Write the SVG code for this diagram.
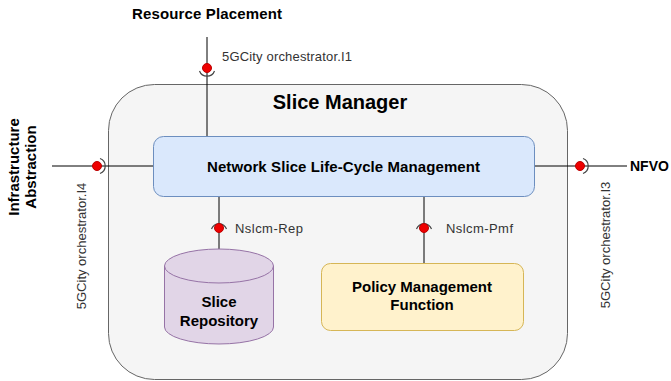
<svg xmlns="http://www.w3.org/2000/svg" width="671" height="381" viewBox="0 0 671 381">
<style>
.b{font-family:"Liberation Sans",Arial,sans-serif;font-weight:bold;font-size:15px;fill:#000;text-anchor:middle}
.l{font-family:"Liberation Sans",Arial,sans-serif;font-size:13px;fill:#333}
.ln{stroke:#000;stroke-width:1;fill:none}
.dot{fill:#e00;stroke:#b00;stroke-width:1}
.sock{fill:none;stroke:#444;stroke-width:1.2}
</style>
<rect width="671" height="381" fill="#fff"/>
<g id="slice-manager">
<rect x="108.5" y="84.5" width="459" height="295" rx="46" fill="#f5f5f5" stroke="#666"/>
<text class="b" x="340" y="109" style="font-size:20px">Slice Manager</text>
</g>
<g id="connectors">
<line class="ln" x1="207" y1="37" x2="207" y2="136"/>
<line class="ln" x1="52" y1="166" x2="153" y2="166"/>
<line class="ln" x1="535" y1="166" x2="627" y2="166"/>
<line class="ln" x1="219" y1="197" x2="219" y2="250"/>
<line class="ln" x1="424" y1="197" x2="424" y2="263"/>
</g>
<g id="interface-i1">
<path class="sock" d="M199.5,71 A8,8 0 0 0 214.5,71"/>
<circle class="dot" cx="207" cy="68" r="4.5"/>
<text class="l" x="222" y="61" textLength="130">5GCity orchestrator.I1</text>
</g>
<g id="interface-i4">
<path class="sock" d="M100,158.5 A8,8 0 0 1 100,173.5"/>
<circle class="dot" cx="97" cy="166" r="4.5"/>
<text class="l" transform="translate(86,246) rotate(-90)" text-anchor="middle">5GCity orchestrator.I4</text>
</g>
<g id="interface-i3">
<path class="sock" d="M583,158.5 A8,8 0 0 1 583,173.5"/>
<circle class="dot" cx="580" cy="166" r="4.5"/>
<text class="l" transform="translate(610,245) rotate(-90)" text-anchor="middle">5GCity orchestrator.I3</text>
</g>
<g id="interface-rep">
<path class="sock" d="M211.5,229 A8,8 0 0 1 226.5,229"/>
<circle class="dot" cx="219" cy="228" r="4.5"/>
<text class="l" x="235" y="233" textLength="68">Nslcm-Rep</text>
</g>
<g id="interface-pmf">
<path class="sock" d="M416.5,229 A8,8 0 0 1 431.5,229"/>
<circle class="dot" cx="424" cy="228" r="4.5"/>
<text class="l" x="446" y="233" textLength="67">Nslcm-Pmf</text>
</g>
<g id="resource-placement">
<text class="b" x="207" y="19" textLength="150">Resource Placement</text>
</g>
<g id="infrastructure-abstraction">
<text class="b" transform="translate(22,167) rotate(-90)"><tspan x="0" y="-3">Infrastructure</tspan><tspan x="0" y="14">Abstraction</tspan></text>
</g>
<g id="nfvo">
<text class="b" x="630" y="171" style="text-anchor:start;font-size:14px">NFVO</text>
</g>
<g id="nslcm">
<rect x="153.5" y="136.5" width="381" height="60" rx="10" fill="#dae8fc" stroke="#6c8ebf"/>
<text class="b" x="343.5" y="172" textLength="273">Network Slice Life-Cycle Management</text>
</g>
<g id="slice-repository">
<path d="M164.5,266 A54.5,17 0 0 1 273.5,266 L273.5,327 A54.5,17 0 0 1 164.5,327 Z" fill="#e1d5e7" stroke="#9673a6"/>
<path d="M164.5,266 A54.5,17 0 0 0 273.5,266" fill="none" stroke="#9673a6"/>
<text class="b" x="219" y="307">Slice</text>
<text class="b" x="219" y="326">Repository</text>
</g>
<g id="policy-management">
<rect x="321.5" y="263.5" width="202" height="67" rx="9" fill="#fff2cc" stroke="#d6b656"/>
<text class="b" x="422" y="292">Policy Management</text>
<text class="b" x="422" y="310">Function</text>
</g>
</svg>
